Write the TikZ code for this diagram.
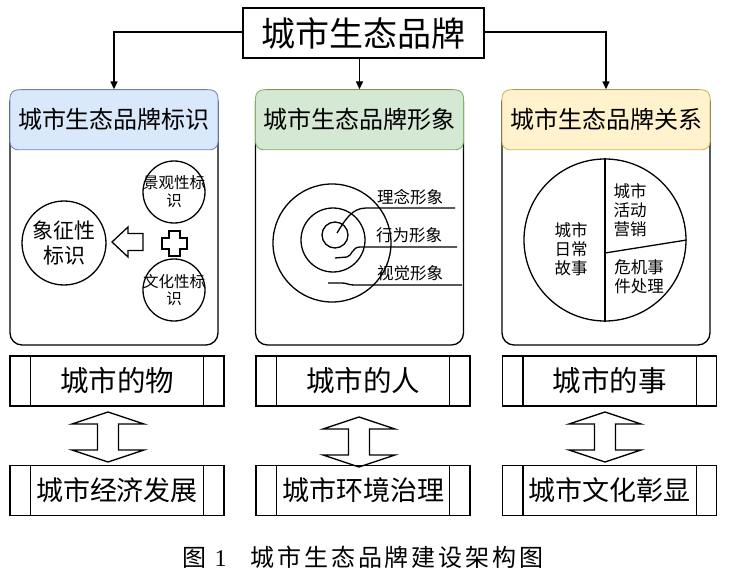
\documentclass[tikz,border=0pt]{standalone}
\usepackage{fontspec}
\setmainfont{Noto Sans CJK SC}
\newfontfamily\capfont[LetterSpace=12]{Noto Sans CJK SC}
\newfontfamily\numfont{Liberation Serif}
\usetikzlibrary{arrows.meta,positioning}

\definecolor{hdblue}{HTML}{DAE8FC}
\definecolor{hdblueline}{HTML}{6C8EBF}
\definecolor{hdgreen}{HTML}{D5E8D4}
\definecolor{hdgreenline}{HTML}{82B366}
\definecolor{hdyellow}{HTML}{FFF2CC}
\definecolor{hdyellowline}{HTML}{D6B656}

\tikzset{
  fsz/.style={font=\fontsize{#1pt}{1.15\dimexpr#1pt\relax}\selectfont},
  panel/.style={draw, rounded corners=12pt, minimum width=208pt, minimum height=255pt, inner sep=0pt},
  header/.style={draw, line width=0.9pt, rounded corners=8pt, minimum width=208pt,
    minimum height=60pt, inner sep=0pt, anchor=north, fsz=24},
  circ/.style={draw, circle, inner sep=0pt},
  procbox/.style={draw, minimum width=214pt, minimum height=50pt, inner sep=0pt},
}

\begin{document}
\begin{tikzpicture}[x=1pt, y=-1pt, >={Triangle[length=8pt,width=7pt]}, line width=1.3pt]
  \useasboundingbox (0,0) rectangle (729,575);

  % top title
  \node[draw, minimum width=241pt, minimum height=50pt, inner sep=0pt, fsz=34] (brand) at (363.5,33) {城市生态品牌};

  % three panels with coloured headers
  \node[panel] (pn1) at (114,217.5) {};
  \node[panel] (pn2) at (359.5,217.5) {};
  \node[panel] (pn3) at (606,217.5) {};
  \node[header, fill=hdblue, draw=hdblueline] (hd1) at (pn1.north) {城市生态品牌标识};
  \node[header, fill=hdgreen, draw=hdgreenline] (hd2) at (pn2.north) {城市生态品牌形象};
  \node[header, fill=hdyellow, draw=hdyellowline] (hd3) at (pn3.north) {城市生态品牌关系};

  \draw[->] (brand.west |- 0,32) -| (hd1.north);
  \draw[->] (brand.south -| hd2.north) -- (hd2.north);
  \draw[->] (brand.east |- 0,32) -| (hd3.north);

  % panel 1: symbols
  \node[circ, minimum size=84pt, fsz=21, align=center] (sym) at (64,243) {象征性\\标识};
  \node[circ, minimum size=62pt] (land) at (174,192) {};
  \node[fsz=15.5, align=center, inner sep=0pt] (landtxt) at (land) {景观性标\\识};
  \node[circ, minimum size=62pt] (cult) at (174,290) {};
  \node[fsz=15.5, align=center, inner sep=0pt] (culttxt) at (cult) {文化性标\\识};
  % hollow arrow and plus
  \draw[line join=miter] (112,242) -- ++(16,-15) -- ++(0,6.5) -- ++(15,0) -- ++(0,17) -- ++(-15,0) -- ++(0,6.5) -- cycle;
  \draw (169,231) -- (180,231) -- (180,238) -- (187,238) -- (187,249) -- (180,249)
    -- (180,256) -- (169,256) -- (169,249) -- (162,249) -- (162,238) -- (169,238) -- cycle;

  % panel 2: rings
  \coordinate (ring) at (332,243);
  \draw (ring) circle (59pt);
  \draw (333,240) circle (32pt);
  \draw (335,235) circle (13pt);
  \draw (337,233) .. controls (345,220) and (352,208) .. (366,208) -- (455,208);
  \draw (335,258) -- (347,257) .. controls (352,256) and (352,247) .. (360,247) -- (457,247);
  \draw (328,283) -- (342,283) .. controls (347,283) and (348,285) .. (354,285) -- (462,285);
  \node[fsz=16.5, anchor=south, inner sep=0pt] (idea) at (410,206) {理念形象};
  \node[fsz=16.5, anchor=south, inner sep=0pt] (act) at (409,244) {行为形象};
  \node[fsz=16.5, anchor=south, inner sep=0pt] (view) at (410,282) {视觉形象};

  % panel 3: pie
  \node[circ, minimum size=162pt] (pie) at (605,240) {};
  \draw (pie.north) -- (pie.south);
  \draw (605,253) -- (pie.east);
  \node[fsz=16.5, align=center, inner sep=0pt] (daily) at (571,249) {城市\\日常\\故事};
  \node[fsz=16.5, align=center, inner sep=0pt] (promo) at (630,210) {城市\\活动\\营销};
  \node[fsz=16.5, align=center, inner sep=0pt] (crisis) at (639,277) {危机事\\件处理};

  % bottom boxes
  \node[procbox, fsz=28.5] (thing) at (117,381) {城市的物};
  \node[procbox, fsz=28.5] (people) at (363,381) {城市的人};
  \node[procbox, fsz=28.5] (event) at (609.5,381) {城市的事};
  \node[procbox, fsz=27] (econ) at (117,490.5) {城市经济发展};
  \node[procbox, fsz=27] (envir) at (363,490.5) {城市环境治理};
  \node[procbox, fsz=27] (show) at (609.5,490.5) {城市文化彰显};
  \foreach \b in {thing,people,event,econ,envir,show}
    \draw ([xshift=21pt]\b.north west) -- ([xshift=21pt]\b.south west)
          ([xshift=-21pt]\b.north east) -- ([xshift=-21pt]\b.south east);

  % hollow double arrows
  \foreach \cx/\ya in {108/412,359/417,605/412}
    \draw[line join=miter] (\cx,\ya) -- ++(36,12) -- ++(-25.5,0) -- ++(0,26) -- ++(25.5,0)
      -- ++(-36,12) -- ++(-36,-12) -- ++(25.5,0) -- ++(0,-26) -- ++(-25.5,0) -- cycle;

  % caption
  \node[fsz=24, inner sep=0pt] (cap) at (363,557) {\capfont 图\hspace{8pt}{\numfont 1}\hspace{24pt}城市生态品牌建设架构图};
\end{tikzpicture}
\end{document}
